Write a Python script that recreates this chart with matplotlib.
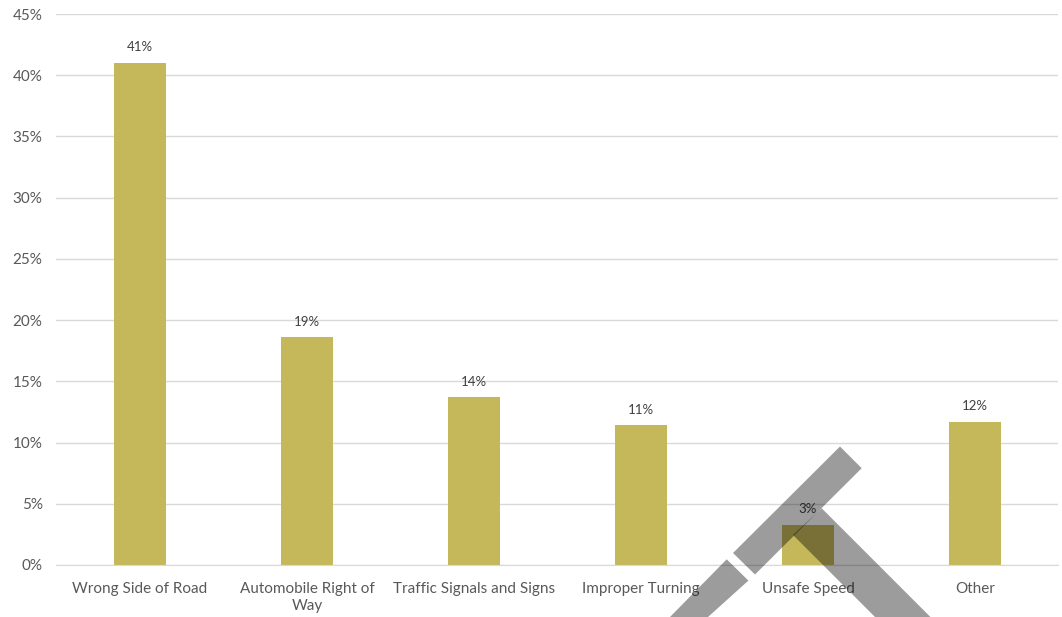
import matplotlib.pyplot as plt
from matplotlib.patches import Polygon

categories = ['Wrong Side of Road', 'Automobile Right of\nWay', 'Traffic Signals and Signs',
              'Improper Turning', 'Unsafe Speed', 'Other']
shares = [41.0, 18.6, 13.7, 11.4, 3.3, 11.7]
y_ticks = [0, 5, 10, 15, 20, 25, 30, 35, 40, 45]

BAR_COLOR = '#C4B85B'
TEXT_COLOR = '#595959'

plt.rcParams['font.family'] = ['Lato', 'DejaVu Sans']

fig = plt.figure(figsize=(10.62, 6.17), dpi=100)
ax = fig.add_axes([0.0532, 0.0843, 0.9435, 0.893])

x = range(len(categories))
bars = ax.bar(x, shares, width=0.317, color=BAR_COLOR, zorder=2)

for rect, val in zip(bars, shares):
    ax.annotate('{:.0f}%'.format(val), (rect.get_x() + rect.get_width() / 2, val),
                xytext=(0, 7), textcoords='offset points', ha='center', va='bottom',
                fontsize=9.5, color='#404040')

ax.set_xlim(-0.5, len(categories) - 0.5)
ax.set_ylim(0, 45)
ax.set_yticks(y_ticks)
ax.set_yticklabels(['{}%'.format(t) for t in y_ticks])
ax.set_xticks(list(x))
ax.set_xticklabels(categories, linespacing=1.25)
ax.yaxis.grid(True, color='#D9D9D9', linewidth=1, zorder=0)
ax.tick_params(axis='both', length=0, labelsize=11, labelcolor=TEXT_COLOR)
ax.tick_params(axis='y', pad=10)
ax.tick_params(axis='x', pad=12.5)
for side in ['top', 'right', 'left']:
    ax.spines[side].set_visible(False)
ax.spines['bottom'].set_color('#D9D9D9')

# translucent caret stamped across the lower right, in figure pixels
W, H = 1062.0, 617.0


def stamp(points):
    pts = [(px / W, 1 - py / H) for px, py in points]
    fig.add_artist(Polygon(pts, closed=True, transform=fig.transFigure,
                           facecolor='black', alpha=0.39, edgecolor='none', zorder=5))


# long left stroke, upper piece
stamp([(840, 446.5), (861.7, 468.2), (755, 574.5), (733, 553)])
# long left stroke, lower piece below the gap
stamp([(726.7, 559.3), (748.4, 580.6), (708, 617), (670, 617)])
# short right stroke hanging under the left one
stamp([(793, 535), (821.7, 508.3), (930.4, 617), (875, 617)])

fig.savefig('out.png', dpi=100)
